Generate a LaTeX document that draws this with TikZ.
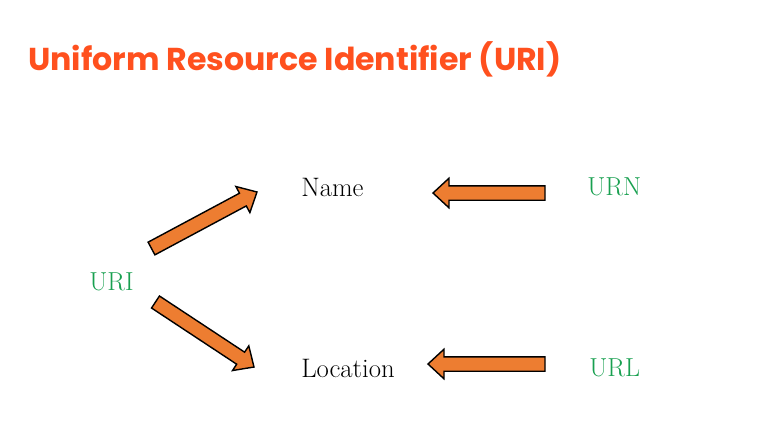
\documentclass[tikz,border=0pt]{standalone}
\usepackage{fontspec}
\usepackage{tikz}
\usetikzlibrary{calc}
\newfontfamily\titlefont{Poppins}

\definecolor{titlered}{RGB}{255,80,30}
\definecolor{urigreen}{RGB}{24,160,80}
\definecolor{arroworange}{RGB}{237,125,49}

\tikzset{
	barrow/.style={fill=arroworange, draw=black, line width=1pt, line join=miter},
	word/.style={anchor=base west, inner sep=0pt, font=\fontsize{19}{22}\selectfont},
	acro/.style={anchor=base west, inner sep=0pt, text=urigreen, font=\fontsize{18.5}{22}\selectfont}
}

% block arrow from tail #1 to tip #2
\newcommand{\blockarrow}[2]{%
	\coordinate (h) at ($(#2)!0.4cm!(#1)$);
	\draw[barrow] ($(#1)!0.18cm!90:(#2)$) -- ($(h)!0.18cm!-90:(#1)$) -- ($(h)!0.37cm!-90:(#1)$) -- (#2)
		-- ($(h)!0.37cm!90:(#1)$) -- ($(h)!0.18cm!90:(#1)$) -- ($(#1)!0.18cm!-90:(#2)$) -- cycle;}

\begin{document}
\begin{tikzpicture}[x=0.025cm, y=-0.025cm]
	\useasboundingbox[fill=white] (0,0) rectangle (778,424);

	\node[anchor=base west, inner sep=0pt, text=titlered, font=\titlefont\bfseries\fontsize{22.5}{26}\selectfont] (title) at (28,70) {Uniform Resource Identifier (URI)};

	\node[acro] (uri) at (89,290) {URI};
	\node[word] (name) at (301,196) {Name};
	\node[word] (loc) at (301,377) {Location};
	\node[acro] (urn) at (587,195) {URN};
	\node[acro] (url) at (589,376) {URL};

	% arrow ends
	\coordinate (a1) at (151.5,248.5);
	\coordinate (b1) at (257,192);
	\coordinate (a2) at (155.5,302);
	\coordinate (b2) at (254,367);
	\coordinate (a3) at (545,193);
	\coordinate (b3) at (433,193);
	\coordinate (a4) at (545,364);
	\coordinate (b4) at (428,364);

	\blockarrow{a1}{b1}
	\blockarrow{a2}{b2}
	\blockarrow{a3}{b3}
	\blockarrow{a4}{b4}
\end{tikzpicture}
\end{document}
